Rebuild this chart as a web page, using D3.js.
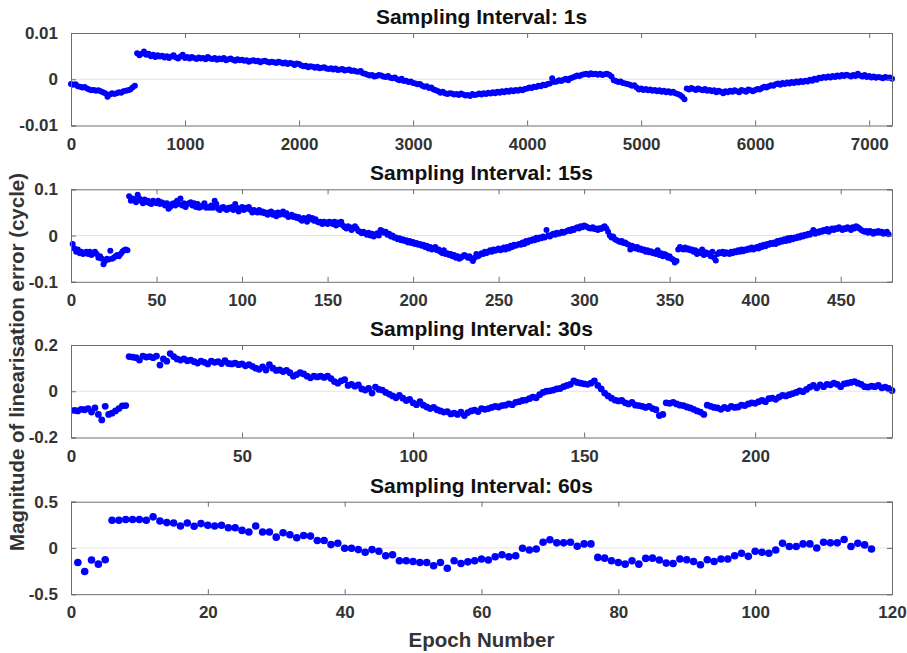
<!DOCTYPE html>
<html>
<head>
<meta charset="utf-8">
<script src="https://cdn.jsdelivr.net/npm/d3@7"></script>
<style>
  body { margin: 0; background: #fff; }
  text { font-family: Arial, "Liberation Sans", Helvetica, sans-serif; font-weight: bold; }
</style>
</head>
<body>
<svg id="chart" width="907" height="653"></svg>
<script>

// ---- data ----

var titles = ["Sampling Interval: 1s", "Sampling Interval: 15s", "Sampling Interval: 30s", "Sampling Interval: 60s"];

var xDomains = [[0, 7200], [0, 480], [0, 240], [0, 120]];
var yDomains = [[-0.01, 0.01], [-0.1, 0.1], [-0.2, 0.2], [-0.5, 0.5]];

var xTicks = [
	[0, 1000, 2000, 3000, 4000, 5000, 6000, 7000],
	[0, 50, 100, 150, 200, 250, 300, 350, 400, 450],
	[0, 50, 100, 150, 200],
	[0, 20, 40, 60, 80, 100, 120]
];
var yTicks = [[-0.01, 0, 0.01], [-0.1, 0, 0.1], [-0.2, 0, 0.2], [-0.5, 0, 0.5]];

// 1s interval: every 20th epoch (0, 20, ... 7200), values in milli-cycles
var p1Step = 20;
var p1Milli = [
	-1.0, -1.2, -1.1, -1.5, -1.6, -1.8, -1.7, -2.0, -2.2, -2.4,
	-2.3, -2.5, -2.4, -2.6, -2.8, -3.0, -3.8, -3.3, -3.0, -3.2,
	-3.0, -2.8, -2.9, -2.6, -2.5, -2.4, -2.2, -1.8, -1.4, 5.6,
	5.2, 5.5, 6.0, 5.3, 5.5, 5.0, 5.3, 4.8, 5.2, 4.9,
	5.1, 4.7, 5.0, 4.6, 4.9, 5.2, 4.7, 4.5, 4.9, 5.3,
	4.6, 4.8, 4.5, 4.8, 4.6, 4.4, 4.7, 4.5, 4.6, 4.3,
	4.8, 4.5, 4.4, 4.6, 4.2, 4.5, 4.3, 4.6, 4.1, 4.3,
	4.5, 4.2, 4.0, 4.3, 4.1, 4.2, 4.0, 4.1, 3.8, 4.0,
	4.1, 3.9, 4.0, 3.7, 3.9, 4.0, 3.8, 3.6, 3.8, 3.7,
	3.5, 3.8, 3.6, 3.4, 3.6, 3.3, 3.5, 3.4, 3.1, 3.4,
	3.3, 3.0, 2.8, 2.9, 2.6, 2.8, 2.7, 2.5, 2.7, 2.4,
	2.5, 2.6, 2.3, 2.2, 2.4, 2.1, 2.3, 2.0, 2.1, 2.2,
	1.9, 2.0, 2.1, 1.8, 1.9, 1.7, 1.6, 1.8, 1.3, 1.2,
	1.0, 0.8, 0.9, 0.6, 0.7, 0.9, 0.8, 0.6, 0.5, 0.7,
	0.3, 0.2, 0.4, 0.0, -0.2, 0.1, -0.4, -0.3, -0.6, -0.5,
	-0.8, -0.9, -1.1, -1.0, -1.4, -1.6, -1.5, -1.9, -1.8, -2.2,
	-2.4, -2.6, -2.9, -2.7, -3.0, -3.2, -3.0, -3.1, -3.3, -3.2,
	-3.4, -3.1, -3.3, -3.5, -3.4, -3.6, -3.2, -3.4, -3.3, -3.1,
	-3.3, -3.0, -3.2, -2.9, -3.1, -2.8, -3.0, -2.7, -2.9, -2.6,
	-2.8, -2.5, -2.7, -2.4, -2.6, -2.3, -2.5, -2.2, -2.4, -2.1,
	-2.0, -1.8, -1.9, -1.6, -1.7, -1.4, -1.5, -1.2, -1.3, -1.0,
	-0.9, 0.2, -0.6, -0.5, -0.2, -0.4, -0.1, 0.1, -0.2, 0.2,
	0.4, 0.6, 0.8, 0.7, 1.0, 1.1, 1.2, 1.0, 1.3, 1.1,
	1.2, 1.0, 1.2, 0.9, 1.1, 1.2, 1.0, 0.6, -0.2, -0.4,
	-0.6, -0.5, -0.8, -0.9, -1.0, -1.2, -1.4, -1.3, -1.8, -2.2,
	-2.0, -2.3, -2.1, -2.4, -2.2, -2.5, -2.3, -2.6, -2.4, -2.7,
	-2.5, -2.8, -2.6, -2.9, -2.7, -3.0, -3.2, -3.4, -3.8, -4.3,
	-2.0, -2.2, -1.9, -2.1, -2.3, -2.0, -2.2, -2.4, -2.1, -2.5,
	-2.3, -2.6, -2.4, -2.8, -2.5, -2.7, -3.0, -2.6, -2.8, -2.5,
	-2.7, -2.4, -2.6, -2.8, -2.3, -2.5, -2.7, -2.2, -2.4, -2.6,
	-2.3, -2.1, -2.2, -1.9, -1.6, -1.8, -1.5, -1.3, -1.4, -1.1,
	-0.9, -1.2, -0.8, -1.0, -0.7, -0.9, -0.6, -0.8, -0.5, -0.7,
	-0.4, -0.6, -0.3, -0.5, -0.1, -0.3, 0.1, -0.1, 0.3, 0.2,
	0.5, 0.3, 0.6, 0.4, 0.7, 0.5, 0.8, 0.6, 0.9, 0.7,
	1.0, 0.8, 0.6, 0.9, 0.7, 1.2, 0.8, 0.6, 0.9, 0.5,
	0.7, 0.4, 0.6, 0.3, 0.5, 0.4, 0.2, 0.5, 0.3, 0.4,
	0.1
];

// 15s interval, epochs 1..478
var p2Values = [
	-0.018, -0.028, -0.035, -0.03, -0.038, -0.035, -0.04, -0.038, -0.035, -0.04,
	-0.035, -0.042, -0.038, -0.035, -0.04, -0.048, -0.045, -0.05, -0.062, -0.055,
	-0.05, -0.052, -0.033, -0.05, -0.048, -0.045, -0.042, -0.045, -0.04, -0.035,
	-0.032, -0.03, -0.032, 0.085, 0.075, 0.08, 0.078, 0.072, 0.088, 0.08,
	0.075, 0.07, 0.078, 0.072, 0.075, 0.07, 0.068, 0.075, 0.072, 0.07,
	0.075, 0.068, 0.072, 0.07, 0.065, 0.07, 0.058, 0.062, 0.068, 0.07,
	0.065, 0.075, 0.068, 0.08, 0.065, 0.07, 0.062, 0.068, 0.07, 0.072,
	0.065, 0.07, 0.062, 0.068, 0.06, 0.062, 0.065, 0.07, 0.06, 0.062,
	0.06, 0.065, 0.06, 0.075, 0.068, 0.058, 0.055, 0.06, 0.062, 0.058,
	0.055, 0.06, 0.058, 0.062, 0.055, 0.068, 0.06, 0.052, 0.058, 0.062,
	0.055, 0.06, 0.058, 0.062, 0.055, 0.05, 0.055, 0.052, 0.05, 0.055,
	0.05, 0.052, 0.048, 0.05, 0.045, 0.05, 0.052, 0.045, 0.048, 0.042,
	0.05, 0.045, 0.048, 0.052, 0.045, 0.048, 0.04, 0.042, 0.045, 0.04,
	0.042, 0.038, 0.04, 0.035, 0.032, 0.038, 0.035, 0.03, 0.04, 0.035,
	0.038, 0.032, 0.035, 0.03, 0.028, 0.03, 0.025, 0.03, 0.028, 0.025,
	0.03, 0.028, 0.025, 0.03, 0.022, 0.028, 0.025, 0.03, 0.022, 0.018,
	0.015, 0.02, 0.018, 0.012, 0.015, 0.02, 0.015, 0.01, 0.008, 0.005,
	0.008, 0.005, 0.002, 0.006, 0.0, 0.004, -0.002, 0.002, 0.005, 0.0,
	0.012, 0.01, 0.006, 0.008, 0.002, 0.004, -0.002, 0.0, -0.005, -0.004,
	-0.008, -0.006, -0.01, -0.008, -0.012, -0.01, -0.015, -0.012, -0.016, -0.014,
	-0.018, -0.016, -0.02, -0.018, -0.022, -0.02, -0.025, -0.022, -0.028, -0.025,
	-0.03, -0.028, -0.025, -0.032, -0.03, -0.035, -0.038, -0.032, -0.04, -0.038,
	-0.042, -0.04, -0.045, -0.042, -0.048, -0.045, -0.05, -0.048, -0.045, -0.042,
	-0.045, -0.048, -0.045, -0.05, -0.055, -0.048, -0.04, -0.045, -0.042, -0.038,
	-0.04, -0.035, -0.038, -0.035, -0.032, -0.035, -0.03, -0.033, -0.03, -0.028,
	-0.032, -0.03, -0.026, -0.03, -0.025, -0.028, -0.022, -0.025, -0.02, -0.022,
	-0.02, -0.018, -0.02, -0.015, -0.018, -0.012, -0.015, -0.01, -0.012, -0.008,
	-0.01, -0.005, -0.008, -0.004, -0.006, -0.002, -0.004, 0.012, 0.0, -0.002,
	0.002, 0.004, 0.002, 0.006, 0.004, 0.005, 0.008, 0.006, 0.008, 0.01,
	0.012, 0.01, 0.014, 0.012, 0.016, 0.018, 0.015, 0.02, 0.018, 0.022,
	0.02, 0.018, 0.016, 0.015, 0.018, 0.014, 0.015, 0.012, 0.016, 0.014,
	0.018, 0.02, 0.015, 0.008, 0.0, -0.004, -0.002, -0.008, -0.01, -0.012,
	-0.014, -0.012, -0.016, -0.015, -0.018, -0.02, -0.03, -0.022, -0.025, -0.028,
	-0.025, -0.03, -0.028, -0.032, -0.03, -0.035, -0.032, -0.036, -0.034, -0.038,
	-0.036, -0.04, -0.032, -0.042, -0.038, -0.045, -0.04, -0.042, -0.048, -0.045,
	-0.05, -0.052, -0.058, -0.055, -0.03, -0.025, -0.028, -0.03, -0.026, -0.03,
	-0.028, -0.032, -0.03, -0.035, -0.032, -0.04, -0.035, -0.038, -0.03, -0.042,
	-0.036, -0.04, -0.038, -0.045, -0.035, -0.048, -0.054, -0.04, -0.036, -0.038,
	-0.035, -0.04, -0.036, -0.038, -0.04, -0.035, -0.038, -0.034, -0.036, -0.032,
	-0.035, -0.03, -0.034, -0.03, -0.032, -0.028, -0.03, -0.026, -0.03, -0.028,
	-0.025, -0.028, -0.022, -0.025, -0.02, -0.023, -0.018, -0.02, -0.016, -0.018,
	-0.015, -0.018, -0.012, -0.015, -0.01, -0.013, -0.008, -0.012, -0.006, -0.01,
	-0.005, -0.008, -0.004, -0.006, -0.002, -0.004, 0.0, -0.002, 0.002, 0.0,
	0.004, 0.002, 0.006, 0.012, 0.004, 0.008, 0.006, 0.01, 0.008, 0.012,
	0.01, 0.014, 0.008, 0.012, 0.015, 0.012, 0.016, 0.014, 0.018, 0.015,
	0.012, 0.016, 0.014, 0.018, 0.016, 0.012, 0.018, 0.015, 0.02, 0.018,
	0.015, 0.012, 0.01, 0.008, 0.01, 0.006, 0.01, 0.008, 0.004, 0.008,
	0.006, 0.01, 0.006, 0.008, 0.004, 0.006, 0.008, 0.003
];

// 30s interval, epochs 1..240
var p3Values = [
	-0.083, -0.085, -0.078, -0.08, -0.075, -0.09, -0.072, -0.1, -0.124, -0.065,
	-0.1, -0.095, -0.085, -0.075, -0.063, -0.062, 0.15, 0.148, 0.145, 0.135,
	0.152, 0.148, 0.15, 0.145, 0.152, 0.113, 0.14, 0.13, 0.163, 0.15,
	0.14, 0.135, 0.14, 0.132, 0.135, 0.128, 0.122, 0.13, 0.125, 0.118,
	0.13, 0.125, 0.128, 0.12, 0.132, 0.12, 0.118, 0.122, 0.115, 0.118,
	0.11, 0.115, 0.108, 0.1, 0.095, 0.105, 0.092, 0.115, 0.1, 0.09,
	0.092, 0.085, 0.09, 0.08, 0.065, 0.072, 0.08, 0.075, 0.065, 0.058,
	0.065, 0.062, 0.065, 0.06, 0.065, 0.055, 0.042, 0.035, 0.045, 0.05,
	0.025, 0.03, 0.022, 0.028, 0.01, 0.005, 0.012, -0.008, 0.018, 0.008,
	0.005, -0.005, -0.012, -0.02, -0.028, -0.018, -0.03, -0.04, -0.035, -0.05,
	-0.058, -0.045, -0.06, -0.068, -0.075, -0.07, -0.08, -0.085, -0.09, -0.088,
	-0.098, -0.095, -0.1, -0.09, -0.105, -0.092, -0.085, -0.082, -0.088, -0.075,
	-0.078, -0.075, -0.07, -0.065, -0.068, -0.062, -0.06, -0.055, -0.058, -0.048,
	-0.045, -0.04, -0.038, -0.032, -0.025, -0.028, -0.015, -0.005, 0.0, 0.002,
	0.005, 0.01, 0.012, 0.02, 0.025, 0.03, 0.045, 0.038, 0.035, 0.032,
	0.03, 0.035, 0.045, 0.025, 0.01, -0.008, -0.02, -0.03, -0.038, -0.042,
	-0.04, -0.05, -0.055, -0.048, -0.06, -0.062, -0.065, -0.07, -0.065, -0.075,
	-0.08, -0.105, -0.1, -0.05, -0.052, -0.048, -0.055, -0.06, -0.062, -0.068,
	-0.072, -0.078, -0.085, -0.09, -0.1, -0.06, -0.065, -0.07, -0.072, -0.078,
	-0.07, -0.075, -0.065, -0.07, -0.068, -0.06, -0.062, -0.055, -0.05, -0.052,
	-0.045, -0.04, -0.045, -0.032, -0.03, -0.035, -0.025, -0.018, -0.02, -0.015,
	-0.01, -0.005, 0.002, -0.002, 0.008, 0.018, 0.025, 0.015, 0.028, 0.02,
	0.03, 0.028, 0.035, 0.03, 0.02, 0.032, 0.035, 0.038, 0.042, 0.035,
	0.03, 0.02, 0.018, 0.022, 0.02, 0.025, 0.015, 0.018, 0.012, 0.003
];

// 60s interval, epochs 1..117
var p4Values = [
	-0.157, -0.255, -0.13, -0.175, -0.128, 0.30, 0.30, 0.307, 0.307, 0.307,
	0.30, 0.336, 0.292, 0.274, 0.27, 0.237, 0.27, 0.234, 0.263, 0.245,
	0.237, 0.245, 0.219, 0.219, 0.19, 0.172, 0.237, 0.172, 0.172, 0.117,
	0.164, 0.142, 0.11, 0.135, 0.128, 0.08, 0.08, 0.036, 0.051, -0.004,
	-0.004, -0.018, -0.047, -0.018, -0.036, -0.084, -0.073, -0.139, -0.139, -0.146,
	-0.157, -0.157, -0.193, -0.157, -0.219, -0.139, -0.168, -0.15, -0.139, -0.12,
	-0.13, -0.095, -0.073, -0.095, -0.084, -0.004, -0.022, -0.011, 0.062, 0.088,
	0.055, 0.055, 0.062, 0.018, 0.044, 0.044, -0.102, -0.11, -0.139, -0.157,
	-0.175, -0.139, -0.175, -0.113, -0.11, -0.13, -0.164, -0.168, -0.12, -0.128,
	-0.146, -0.182, -0.128, -0.146, -0.12, -0.12, -0.084, -0.058, -0.091, -0.036,
	-0.047, -0.058, -0.022, 0.051, 0.015, 0.015, 0.044, 0.044, 0.0, 0.062,
	0.055, 0.055, 0.091, 0.015, 0.051, 0.033, -0.011
];

// ---- layout ----

var left = 71, right = 892, panelH = 92.5;
var panelTops = [33, 189.3, 345, 501.7];
var dotR = [3.0, 3.0, 3.4, 3.8];
var tickLen = 5;

var series = [
	p1Milli.map((v, i) => [i * p1Step, v / 1000]),
	p2Values.map((v, i) => [i + 1, v]),
	p3Values.map((v, i) => [i + 1, v]),
	p4Values.map((v, i) => [i + 1, v])
];

var svg = d3.select("#chart");

series.forEach(function(pts, k) {

	var top = panelTops[k];
	var bottom = top + panelH;

	var x = d3.scaleLinear().domain(xDomains[k]).range([left, right]);
	var y = d3.scaleLinear().domain(yDomains[k]).range([bottom, top]);

	var g = svg.append("g").attr("class", "panel" + k);

	// zero line
	g.append("line")
		.attr("x1", left).attr("x2", right)
		.attr("y1", y(0)).attr("y2", y(0))
		.attr("stroke", "#e3e3e3")
		.attr("stroke-width", 1);

	// points
	g.append("g")
		.selectAll("circle")
		.data(pts)
		.enter()
		.append("circle")
		.attr("cx", d => x(d[0]))
		.attr("cy", d => y(d[1]))
		.attr("r", dotR[k])
		.attr("fill", "#0000ff");

	// axes (ticks inside, MATLAB style box)
	var fmt = d => d === 0 ? "0" : String(d);

	g.append("g")
		.attr("transform", "translate(0," + bottom + ")")
		.call(d3.axisBottom(x).tickValues(xTicks[k]).tickSize(-tickLen).tickPadding(12).tickFormat(fmt));

	g.append("g")
		.attr("transform", "translate(0," + top + ")")
		.call(d3.axisTop(x).tickValues(xTicks[k]).tickSize(-tickLen).tickFormat(""));

	g.append("g")
		.attr("transform", "translate(" + left + ",0)")
		.call(d3.axisLeft(y).tickValues(yTicks[k]).tickSize(-tickLen).tickPadding(13).tickFormat(fmt));

	g.append("g")
		.attr("transform", "translate(" + right + ",0)")
		.call(d3.axisRight(y).tickValues(yTicks[k]).tickSize(-tickLen).tickFormat(""));

	g.selectAll(".domain").attr("stroke", "#6e6e6e").attr("stroke-width", 1);
	g.selectAll(".tick line").attr("stroke", "#6e6e6e");
	g.selectAll(".tick text")
		.attr("font-size", "17px")
		.attr("font-weight", "bold")
		.attr("font-family", "Arial, 'Liberation Sans', sans-serif")
		.attr("fill", "#333");

	// title
	g.append("text")
		.attr("x", (left + right) / 2)
		.attr("y", top - 9)
		.attr("text-anchor", "middle")
		.attr("font-size", "21px")
		.attr("fill", "#111")
		.text(titles[k]);

});

svg.append("text")
	.attr("transform", "translate(24,362) rotate(-90)")
	.attr("text-anchor", "middle")
	.attr("font-size", "20.5px")
	.attr("fill", "#333")
	.text("Magnitude of linearisation error (cycle)");

svg.append("text")
	.attr("x", (left + right) / 2)
	.attr("y", 647)
	.attr("text-anchor", "middle")
	.attr("font-size", "20.5px")
	.attr("fill", "#333")
	.text("Epoch Number");

</script>
</body>
</html>
